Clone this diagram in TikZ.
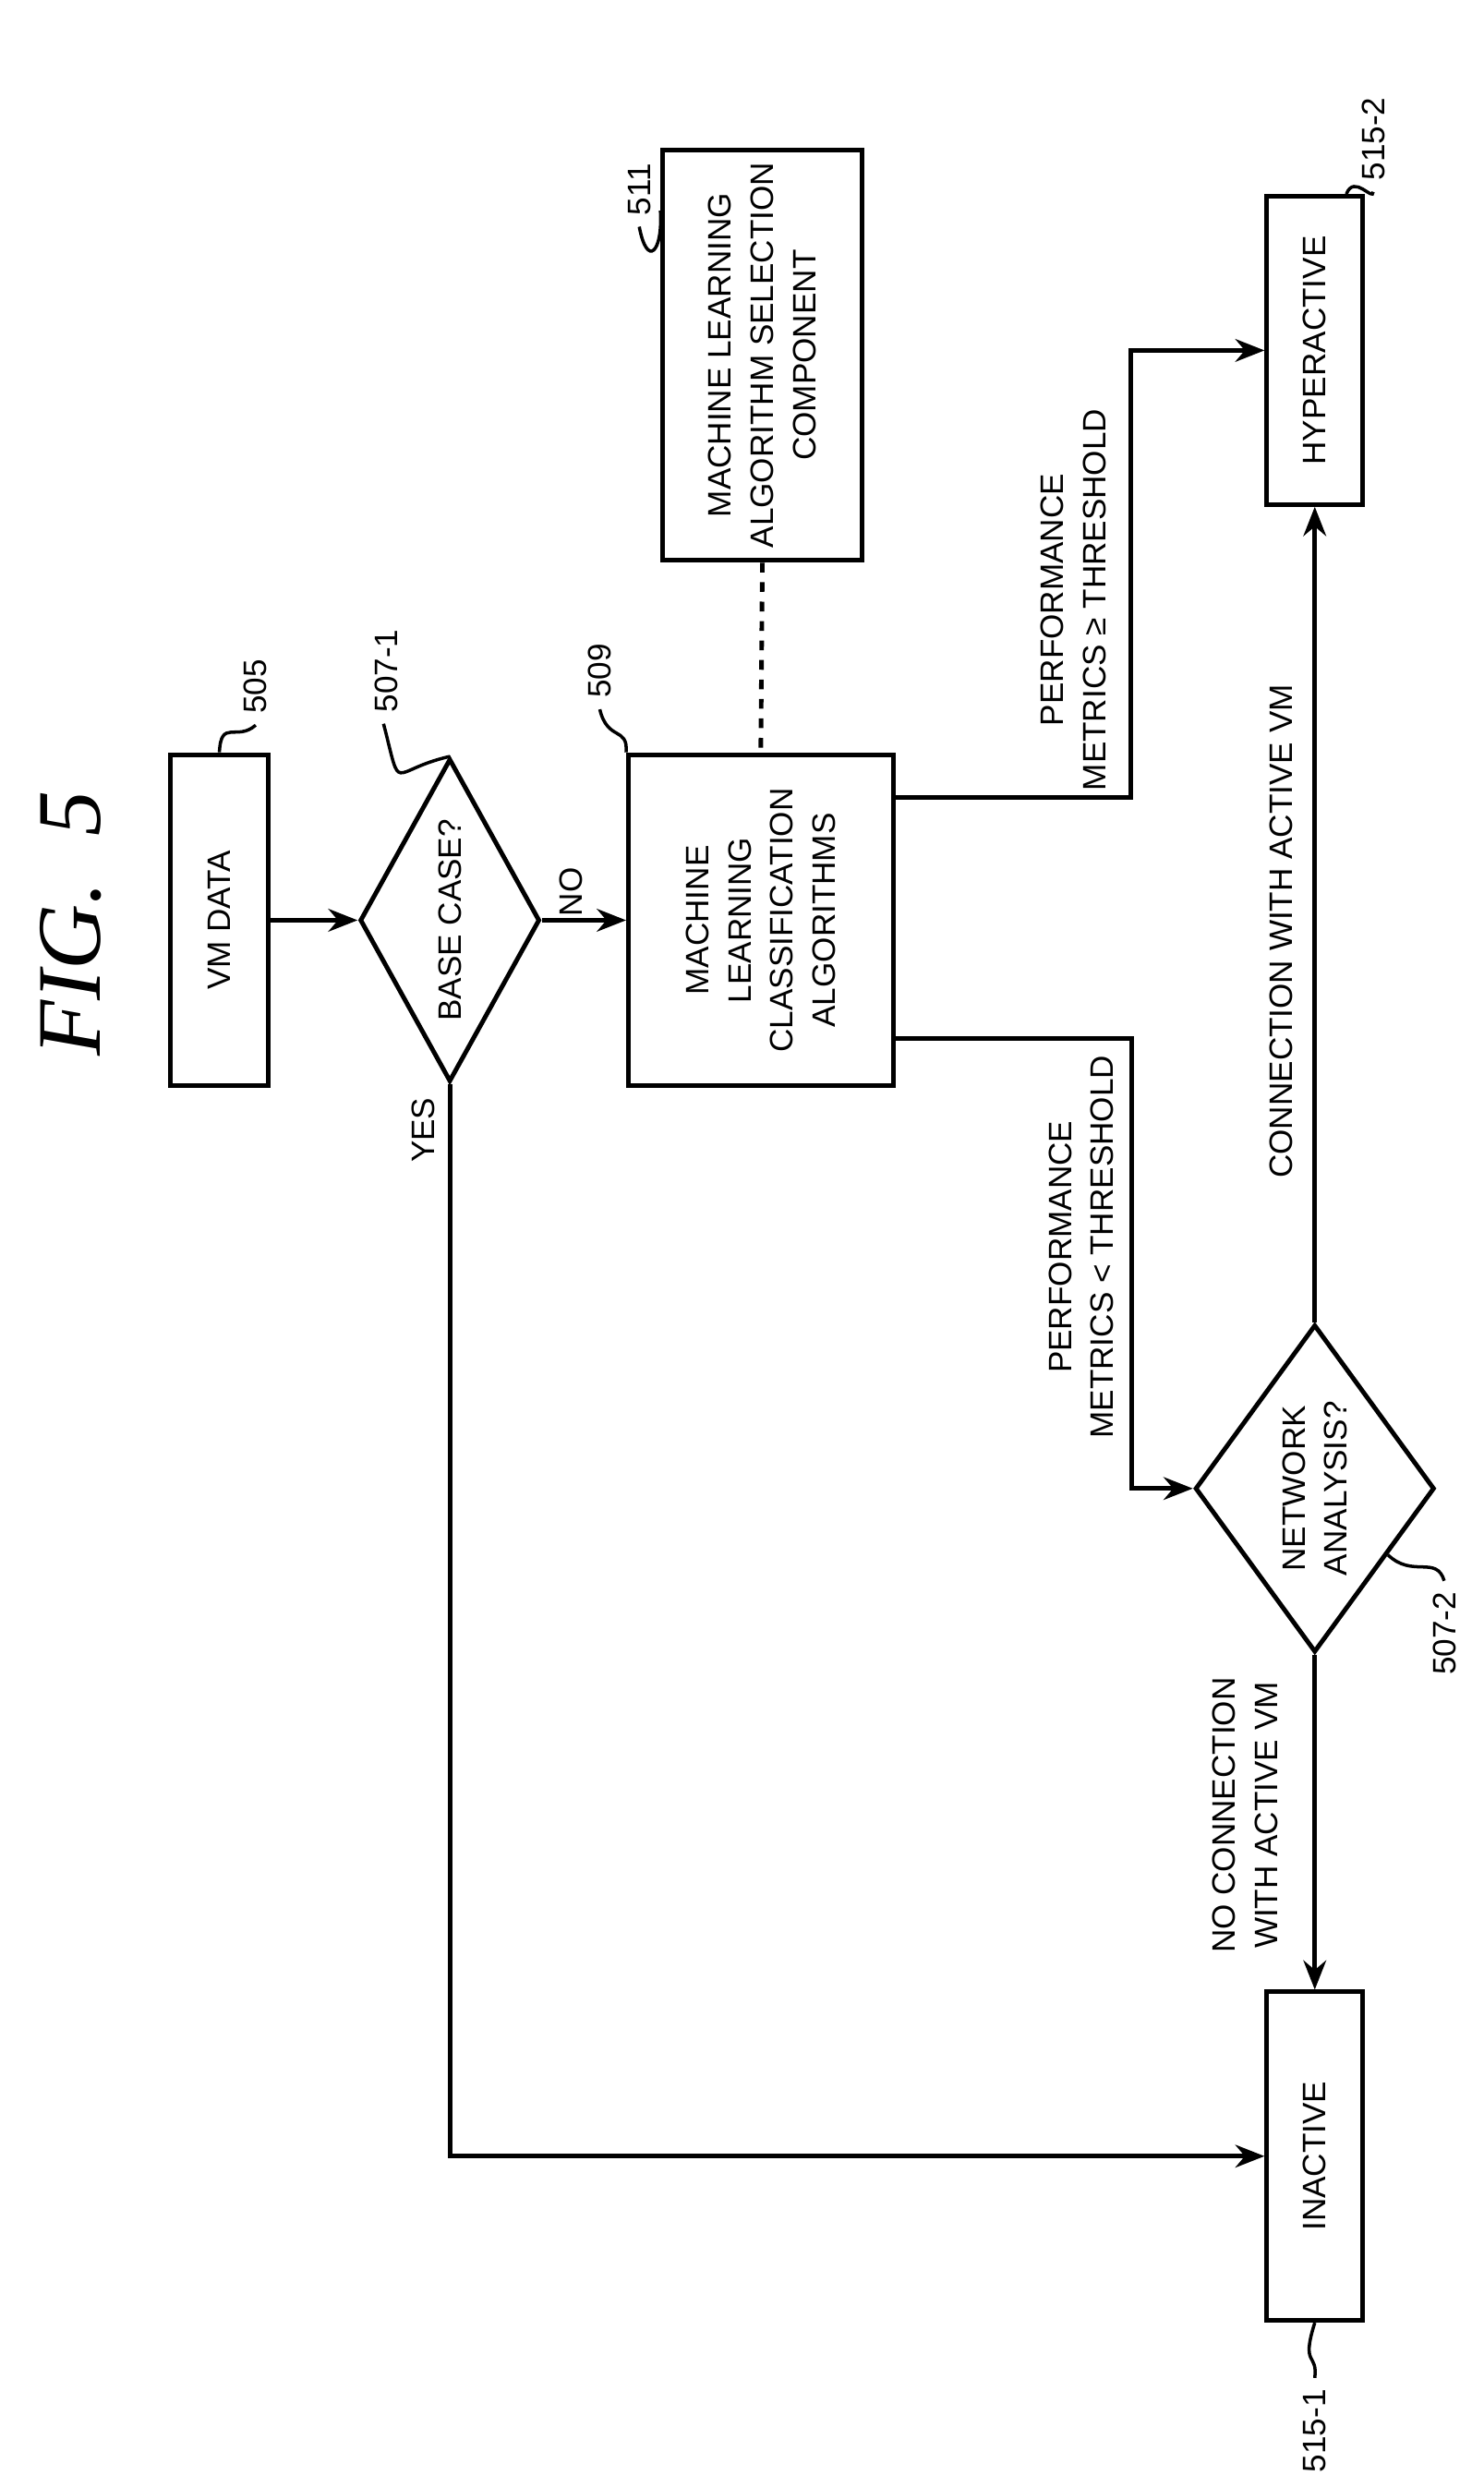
\documentclass[tikz,border=0pt]{standalone}
\usepackage{fontspec}
\setmainfont{Liberation Sans}
\newfontfamily\figfont{Liberation Serif}
\usetikzlibrary{shapes.geometric}
\usetikzlibrary{arrows.meta}
\usetikzlibrary{calc}

\tikzset{
  box/.style={draw, line width=1.4pt, rotate=90, align=center, inner sep=2pt,
    font=\fontsize{10}{13}\selectfont},
  dec/.style={draw, diamond, line width=1.4pt, rotate=90, align=center, inner sep=0pt,
    font=\fontsize{10}{13}\selectfont},
  lbl/.style={rotate=90, align=center, font=\fontsize{10}{13}\selectfont},
  refn/.style={rotate=90, font=\fontsize{10}{12}\selectfont},
  flow/.style={line width=1.4pt, -{Stealth[length=9pt,width=7pt]}},
  lead/.style={line width=1pt},
}

\begin{document}
\begin{tikzpicture}[x=0.01711cm, y=-0.01711cm]
\useasboundingbox (0,0) rectangle (940,1568);

% title
\node[rotate=90, font=\figfont\itshape\fontsize{28}{30}\selectfont] (fig) at (45,585) {FIG.~~5};

% boxes and decisions
\node[box, minimum width=3.59cm, minimum height=1.06cm] (vm) at (139,583) {VM DATA};
\node[dec, aspect=1.8, minimum width=3.5cm, minimum height=1.95cm] (base) at (285,583) {BASE CASE?};
\node[box, minimum width=3.59cm, minimum height=2.87cm] (mlc) at (482,583)
  {MACHINE\\LEARNING\\CLASSIFICATION\\ALGORITHMS};
\node[box, minimum width=4.45cm, minimum height=2.16cm] (mls) at (483,225)
  {MACHINE LEARNING\\ALGORITHM SELECTION\\COMPONENT};
\node[box, minimum width=3.34cm, minimum height=1.04cm] (hyp) at (833,222) {HYPERACTIVE};
\node[box, minimum width=3.56cm, minimum height=1.04cm] (inact) at (833,1366) {INACTIVE};
\node[dec, minimum width=3.55cm, minimum height=2.5cm] (net) at (833,943) {NETWORK\\ANALYSIS?};

% connectors
\draw[flow] (vm.south) -- (base.north);
\draw[flow] (base.south) -- (mlc.north);
\draw[flow] (base.west) |- (inact.north);
\draw[line width=1.4pt, dashed] (mls.west) -- (mlc.east);
\draw[flow] ($(mlc.south)+(0,-78)$) -| ($(hyp.north)+(-85,0)$) -- (hyp.north);
\draw[flow] ($(mlc.south)+(0,75)$) -| ($(net.north)+(-39,0)$) -- (net.north);
\draw[flow] (net.east) -- (hyp.west);
\draw[flow] (net.west) -- (inact.east);

% connector labels
\node[lbl] (no) at (362,565) {NO};
\node[lbl] (yes) at (268,716) {YES};
\node[lbl] (pgt) at (680,380) {PERFORMANCE\\METRICS ≥ THRESHOLD};
\node[lbl] (plt) at (685,790) {PERFORMANCE\\METRICS < THRESHOLD};
\node[lbl] (con) at (812,590) {CONNECTION WITH ACTIVE VM};
\node[lbl] (nocon) at (789,1150) {NO CONNECTION\\WITH ACTIVE VM};

% reference numerals
\node[refn] (r505) at (162,435) {505};
\draw[lead] (r505.west) .. controls (150,470) and (140,455) .. (vm.east);
\node[refn] (r5071) at (245,425) {507-1};
\draw[lead] ($(r5071.west)+(-2,0)$) .. controls (255,505) and (246,488) .. (base.east);
\node[refn] (r509) at (380,425) {509};
\draw[lead] (r509.west) .. controls (385,470) and (398,460) .. (mlc.north east);
\node[refn] (r511) at (405,120) {511};
\draw[lead] (r511.west) .. controls (410,170) and (420,160) .. ($(mls.north east)+(0,40)$);
\node[refn] (r5152) at (870,88) {515-2};
\draw[lead] (r5152.west) .. controls (870,128) and (858,110) .. ($(hyp.east)+(20,0)$);
\node[refn] (r5151) at (833,1540) {515-1};
\draw[lead] (r5151.east) .. controls (835,1490) and (824,1500) .. (inact.west);
\node[refn] (r5072) at (915,1035) {507-2};
\draw[lead] (r5072.east) .. controls (910,985) and (895,1000) .. ($(net.west)!0.6!(net.south)$);
\end{tikzpicture}
\end{document}
